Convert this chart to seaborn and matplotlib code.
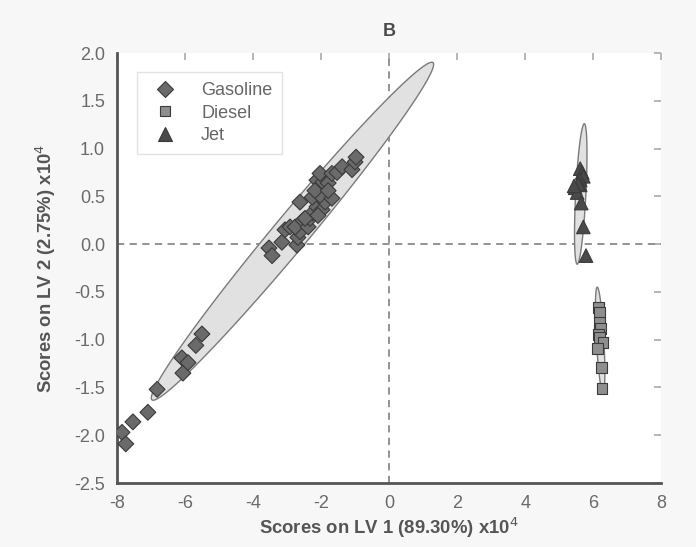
import numpy as np
import pandas as pd
import matplotlib
matplotlib.use("Agg")
import matplotlib.pyplot as plt
import seaborn as sns

# ---------------- data ----------------
gasoline_x = [-7.85, -7.74, -7.53, -7.09, -6.82, -6.09, -6.06, -5.91, -5.68, -5.50,
              -3.53, -3.44, -3.15, -3.06, -2.91, -2.71, -2.68, -2.62, -2.76, -2.62,
              -2.53, -2.38, -2.32, -2.24, -2.47, -2.12, -1.97, -1.88, -2.26, -2.03,
              -1.68, -2.12, -1.94, -1.79, -2.03, -1.68, -1.53, -1.38, -1.09, -1.00,
              -0.97, -2.18, -2.09, -1.79]
gasoline_y = [-1.97, -2.09, -1.86, -1.76, -1.52, -1.19, -1.35, -1.24, -1.06, -0.94,
              -0.04, -0.12, 0.02, 0.15, 0.18, -0.01, 0.07, 0.13, 0.18, 0.44,
              0.25, 0.18, 0.27, 0.33, 0.27, 0.39, 0.36, 0.44, 0.49, 0.51,
              0.48, 0.67, 0.65, 0.64, 0.74, 0.74, 0.75, 0.81, 0.78, 0.86,
              0.91, 0.56, 0.30, 0.56]
diesel_x = [6.15, 6.18, 6.18, 6.21, 6.15, 6.18, 6.29, 6.12, 6.24, 6.26]
diesel_y = [-0.66, -0.72, -0.82, -0.88, -0.95, -0.98, -1.03, -1.09, -1.29, -1.51]
jet_x = [5.62, 5.68, 5.71, 5.62, 5.47, 5.53, 5.62, 5.56, 5.65, 5.71, 5.79, 5.44]
jet_y = [0.79, 0.75, 0.71, 0.67, 0.59, 0.54, 0.62, 0.63, 0.43, 0.18, -0.12, 0.61]

# confidence ellipses: center, semi-major vector, semi-minor vector (data units)
ell_center = {"Gasoline": (-2.84, 0.135), "Jet": (5.635, 0.525), "Diesel": (6.205, -1.005)}
ell_major = {"Gasoline": (4.13, 1.765), "Jet": (0.105, 0.735), "Diesel": (-0.085, 0.555)}
ell_minor = {"Gasoline": (-0.40, 0.115), "Jet": (-0.15, 0.003), "Diesel": (0.11, 0.0)}

x_ticks = [-8, -6, -4, -2, 0, 2, 4, 6, 8]
y_ticks = [-2.5, -2.0, -1.5, -1.0, -0.5, 0.0, 0.5, 1.0, 1.5, 2.0]

df = pd.DataFrame({
    "x": gasoline_x + diesel_x + jet_x,
    "y": gasoline_y + diesel_y + jet_y,
    "Fuel": ["Gasoline"] * len(gasoline_x) + ["Diesel"] * len(diesel_x) + ["Jet"] * len(jet_x),
})

# ---------------- styling ----------------
sns.set_style("white")
plt.rcParams["font.family"] = ["Liberation Sans", "DejaVu Sans"]

fig = plt.figure(figsize=(6.96, 5.47), dpi=100)
fig.patch.set_facecolor("#f7f7f7")
ax = fig.add_axes([0.168, 0.117, 0.782, 0.786])
ax.set_facecolor("white")

# ellipses
t = np.linspace(0, 2 * np.pi, 300)
for k in ["Gasoline", "Jet", "Diesel"]:
    cx, cy = ell_center[k]
    ax_, ay_ = ell_major[k]
    bx_, by_ = ell_minor[k]
    ex = cx + ax_ * np.cos(t) + bx_ * np.sin(t)
    ey = cy + ay_ * np.cos(t) + by_ * np.sin(t)
    ax.fill(ex, ey, facecolor="#e1e1e1", edgecolor="#7a7a7a", linewidth=1.0, zorder=1)

# zero lines
ax.axhline(0, color="#8a8a8a", linestyle=(0, (4, 3)), linewidth=1.3, zorder=0.5)
ax.axvline(0, color="#8a8a8a", linestyle=(0, (4, 3)), linewidth=1.3, zorder=0.5)

order = ["Gasoline", "Diesel", "Jet"]
palette = {"Gasoline": "#6a6a6a", "Diesel": "#8e8e8e", "Jet": "#4a4a4a"}
markers = {"Gasoline": "D", "Diesel": "s", "Jet": "^"}
sizes = {"Gasoline": 65, "Diesel": 62, "Jet": 95}
sns.scatterplot(data=df, x="x", y="y", hue="Fuel", style="Fuel", size="Fuel",
                hue_order=order, style_order=order, size_order=order, sizes=sizes,
                palette=palette, markers=markers, edgecolor="#3a3a3a", linewidth=0.8,
                ax=ax, zorder=3)

ax.set_xlim(-8, 8)
ax.set_ylim(-2.5, 2.0)
ax.set_xticks(x_ticks)
ax.set_xticklabels([f"{v:g}" for v in x_ticks])
ax.set_yticks(y_ticks)
ax.set_yticklabels([f"{v:.1f}" for v in y_ticks])

for s in ["top", "right"]:
    ax.spines[s].set_visible(False)
for s in ["left", "bottom"]:
    ax.spines[s].set_color("#555555")
    ax.spines[s].set_linewidth(2.0)
ax.tick_params(axis="both", direction="inout", length=9, width=1.6, color="#555555",
               labelsize=13, labelcolor="#6a6a6a", pad=4)

# top / right inner ticks
secx = ax.secondary_xaxis("top")
secx.set_xticks(x_ticks)
secx.tick_params(direction="in", length=5, width=1.2, color="#aaaaaa", labeltop=False)
secx.spines["top"].set_visible(False)
secy = ax.secondary_yaxis("right")
secy.set_yticks(y_ticks)
secy.tick_params(direction="in", length=5, width=1.2, color="#aaaaaa", labelright=False)
secy.spines["right"].set_visible(False)

ax.set_xlabel("Scores on LV 1 (89.30%) x10$^{4}$", fontsize=13.3, fontweight="bold",
              color="#555555", labelpad=3)
ax.set_ylabel("Scores on LV 2 (2.75%) x10$^{4}$", fontsize=13.3, fontweight="bold",
              color="#555555", labelpad=12)
ax.set_title("B", fontsize=13, fontweight="bold", color="#4a4a4a", pad=12)

leg = ax.legend(loc="upper left", bbox_to_anchor=(0.037, 0.956), borderaxespad=0,
                frameon=True, fancybox=False, fontsize=13, labelcolor="#666666",
                handletextpad=1.0, borderpad=0.55, labelspacing=0.32, title=None)
leg.get_frame().set_edgecolor("#dddddd")
leg.get_frame().set_linewidth(1.0)

fig.savefig("out.png", dpi=100, facecolor=fig.get_facecolor())
